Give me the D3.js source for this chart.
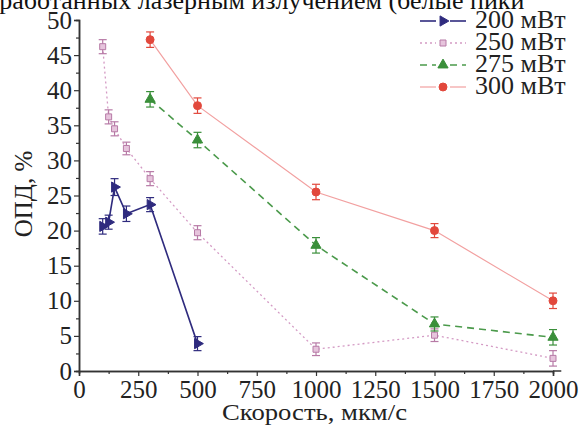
<!DOCTYPE html>
<html>
<head>
<meta charset="utf-8">
<script src="https://cdn.jsdelivr.net/npm/d3@7"></script>
<style>
  body { margin: 0; background: #fff; }
</style>
</head>
<body>
<div id="chart"></div>
<script>
// Data
const speed200 = [100, 125, 150, 200, 300, 500]
const opd200 = [20.6, 21.2, 26.2, 22.4, 23.7, 3.9]
const err200 = [1.1, 1.0, 1.2, 1.1, 1.0, 1.0]

const speed250 = [100, 125, 150, 200, 300, 500, 1000, 1500, 2000]
const opd250 = [46.2, 36.2, 34.5, 31.7, 27.4, 19.7, 3.1, 5.1, 1.8]
const err250 = [1.0, 1.0, 1.0, 0.9, 1.0, 1.0, 0.9, 0.9, 1.1]

const speed275 = [300, 500, 1000, 1500, 2000]
const opd275 = [38.7, 32.9, 17.9, 6.7, 4.8]
const err275 = [1.1, 1.1, 1.1, 1.0, 1.1]

const speed300 = [300, 500, 1000, 1500, 2000]
const opd300 = [47.2, 37.8, 25.5, 20.0, 10.0]
const err300 = [1.1, 1.1, 1.1, 1.0, 1.1]

const seriesNames = ['200 мВт', '250 мВт', '275 мВт', '300 мВт']
const xTicks = [0, 250, 500, 750, 1000, 1250, 1500, 1750, 2000]
const yTicks = [0, 5, 10, 15, 20, 25, 30, 35, 40, 45, 50]

const width = 581
const height = 425
const serif = '"Liberation Serif"'

const x = d3.scaleLinear().domain([0, 2000]).range([79, 553])
const y = d3.scaleLinear().domain([0, 50]).range([371, 20])

const svg = d3.select('#chart').append('svg')
    .attr('width', width).attr('height', height)

// Cut-off caption line at the very top
svg.append('text')
    .attr('x', -27).attr('y', 9)
    .style('font-family', serif)
    .style('font-size', '26px')
    .attr('fill', '#111')
    .text('обработанных лазерным излучением (белые пики')

// Series styles
const series = [
    { name: seriesNames[0], xs: speed200, ys: opd200, es: err200, line: '#2f2b7e', mark: '#2f2b7e', dash: null, w: 1.6, shape: 'right' },
    { name: seriesNames[1], xs: speed250, ys: opd250, es: err250, line: '#d49ac4', mark: '#b77aa6', dash: '2,3', w: 1.3, shape: 'square' },
    { name: seriesNames[2], xs: speed275, ys: opd275, es: err275, line: '#4b9a4b', mark: '#3a8f3a', dash: '7,5', w: 1.6, shape: 'up' },
    { name: seriesNames[3], xs: speed300, ys: opd300, es: err300, line: '#f2a0a0', mark: '#e2483c', dash: null, w: 1.2, shape: 'circle' }
]

const shapePath = {
    right: d3.symbol().type(d3.symbolTriangle).size(45),
    square: d3.symbol().type(d3.symbolSquare).size(36),
    up: d3.symbol().type(d3.symbolTriangle).size(45),
    circle: d3.symbol().type(d3.symbolCircle).size(50)
}

const drawMarker = (g, s, px, py) => {
    g.append('path')
        .attr('d', shapePath[s.shape]())
        .attr('transform', `translate(${px},${py})` + (s.shape === 'right' ? ' rotate(90)' : ''))
        .attr('fill', s.shape === 'square' ? '#e6c4dc' : s.mark)
        .attr('stroke', s.mark)
        .attr('stroke-width', 1)
}

// Axes
const xAxis = d3.axisBottom(x).tickValues(xTicks).tickSize(5).tickPadding(4).tickFormat(d3.format('d'))
const xMinor = d3.axisBottom(x).tickValues(d3.range(125, 2000, 250)).tickSize(3).tickFormat('')
const yAxis = d3.axisLeft(y).tickValues(yTicks).tickSize(5).tickPadding(2).tickFormat(d3.format('d'))
const yMinor = d3.axisLeft(y).tickValues(d3.range(2.5, 50, 5)).tickSize(3).tickFormat('')

svg.append('g').attr('transform', `translate(0,${y(0)})`).call(xAxis)
svg.append('g').attr('transform', `translate(0,${y(0)})`).call(xMinor)
svg.append('g').attr('transform', `translate(${x(0)},0)`).call(yAxis)
svg.append('g').attr('transform', `translate(${x(0)},0)`).call(yMinor)

svg.selectAll('.domain').attr('stroke', '#333').attr('stroke-width', 1.5)
svg.selectAll('.tick line').attr('stroke', '#333').attr('stroke-width', 1.2)
svg.selectAll('.tick text')
    .style('font-family', serif)
    .style('font-size', '25px')
    .attr('fill', '#222')
// extend x axis line a bit beyond 2000
svg.append('line')
    .attr('x1', x(2000)).attr('x2', x(2035))
    .attr('y1', y(0)).attr('y2', y(0))
    .attr('stroke', '#333').attr('stroke-width', 1.5)

// Axis titles
svg.append('text')
    .attr('x', 222).attr('y', 420)
    .attr('textLength', 185)
    .attr('lengthAdjust', 'spacingAndGlyphs')
    .style('font-family', serif)
    .style('font-size', '23px')
    .attr('fill', '#222')
    .text('Скорость, мкм/с')
svg.append('text')
    .attr('transform', `translate(32,194) rotate(-90)`)
    .attr('text-anchor', 'middle')
    .style('font-family', serif)
    .style('font-size', '25px')
    .attr('fill', '#222')
    .text('ОПД, %')

// Lines, error bars, markers
const lineGen = d3.line().x(d => x(d[0])).y(d => y(d[1]))

series.forEach(s => {
    const pts = s.xs.map((v, i) => [v, s.ys[i], s.es[i]])
    svg.append('path')
        .datum(pts)
        .attr('d', lineGen)
        .attr('fill', 'none')
        .attr('stroke', s.line)
        .attr('stroke-width', s.w)
        .attr('stroke-dasharray', s.dash)

    const g = svg.append('g')
    pts.forEach(p => {
        const px = x(p[0])
        g.append('line')
            .attr('x1', px).attr('x2', px)
            .attr('y1', y(p[1] - p[2])).attr('y2', y(p[1] + p[2]))
            .attr('stroke', s.mark).attr('stroke-width', 1.2)
        ;[p[1] - p[2], p[1] + p[2]].forEach(e => {
            g.append('line')
                .attr('x1', px - 4).attr('x2', px + 4)
                .attr('y1', y(e)).attr('y2', y(e))
                .attr('stroke', s.mark).attr('stroke-width', 1.2)
        })
        drawMarker(g, s, px, y(p[1]))
    })
})

// Legend
const legend = svg.append('g').attr('transform', 'translate(420,21)')
series.forEach((s, i) => {
    const row = legend.append('g').attr('transform', `translate(0,${i * 22})`)
    ;[[0, 16], [30, 46]].forEach(seg => {
        row.append('line')
            .attr('x1', seg[0]).attr('x2', seg[1])
            .attr('y1', 0).attr('y2', 0)
            .attr('stroke', s.line)
            .attr('stroke-width', s.w)
            .attr('stroke-dasharray', s.dash)
    })
    drawMarker(row, s, 23, 0)
    row.append('text')
        .attr('x', 55).attr('y', 7)
        .style('font-family', serif)
        .style('font-size', '26px')
        .attr('fill', '#222')
        .text(s.name)
})
</script>
</body>
</html>
